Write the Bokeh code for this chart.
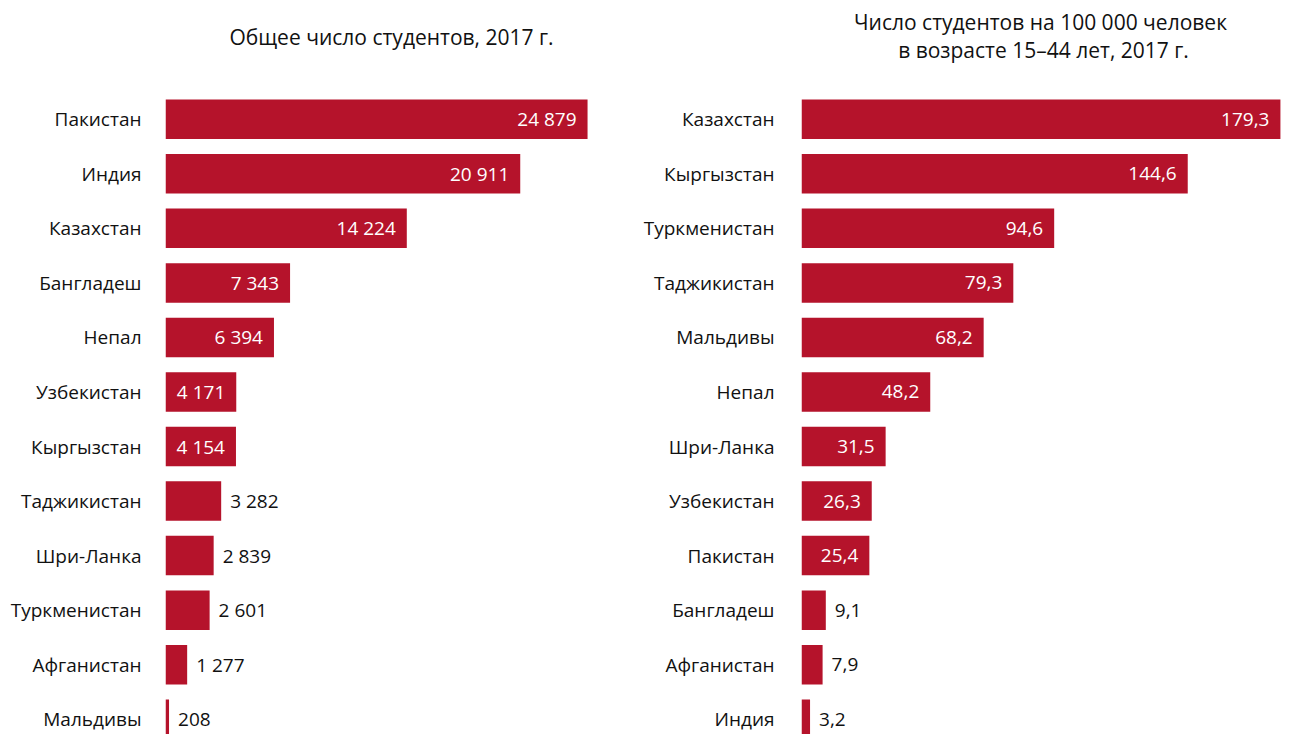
from bokeh.plotting import figure
from bokeh.layouts import row
from bokeh.models import Range1d, FixedTicker, Label, ColumnDataSource
from bokeh.embed import file_html
from bokeh.resources import INLINE
from bokeh.core.properties import value

# ---- data ----
left_title = "Общее число студентов, 2017 г."
left_countries = ["Пакистан", "Индия", "Казахстан", "Бангладеш", "Непал", "Узбекистан",
                  "Кыргызстан", "Таджикистан", "Шри-Ланка", "Туркменистан", "Афганистан", "Мальдивы"]
left_values = [24879, 20911, 14224, 7343, 6394, 4171, 4154, 3282, 2839, 2601, 1277, 208]

right_title_1 = "Число студентов на 100 000 человек"
right_title_2 = "в возрасте 15–44 лет, 2017 г."
right_countries = ["Казахстан", "Кыргызстан", "Туркменистан", "Таджикистан", "Мальдивы", "Непал",
                   "Шри-Ланка", "Узбекистан", "Пакистан", "Бангладеш", "Афганистан", "Индия"]
right_values = [179.3, 144.6, 94.6, 79.3, 68.2, 48.2, 31.5, 26.3, 25.4, 9.1, 7.9, 3.2]

BAR = "#B5132B"
TXT = "#111111"
FONT = "Open Sans"
H = 734
LBL = "19px"
TTL = "21px"


def fmt_int(v):
    return f"{v:,}".replace(",", "\u00a0")


def fmt_dec(v):
    return f"{v:.1f}".replace(".", ",")


def make(countries, values, fmt, xmax, width, border_left, border_right, standoff):
    n = len(countries)
    idx = list(range(n))
    p = figure(width=width, height=H, output_backend="svg", toolbar_location=None,
               x_range=Range1d(0, xmax), y_range=Range1d(11.28, -2.178),
               min_border_left=border_left, min_border_right=border_right,
               min_border_top=0, min_border_bottom=0)
    p.outline_line_color = None
    p.grid.visible = False
    p.xaxis.visible = False
    p.background_fill_color = None
    p.border_fill_color = None

    src = ColumnDataSource(dict(y=idx, v=values))
    p.hbar(y="y", left=0, right="v", height=0.724, source=src, fill_color=BAR, line_color=None)

    vmax = max(values)
    inside = [v / vmax > 0.14 for v in values]
    ins = ColumnDataSource(dict(x=[v for v, i in zip(values, inside) if i],
                                y=[y for y, i in zip(idx, inside) if i],
                                t=[fmt(v) for v, i in zip(values, inside) if i]))
    out = ColumnDataSource(dict(x=[v for v, i in zip(values, inside) if not i],
                                y=[y for y, i in zip(idx, inside) if not i],
                                t=[fmt(v) for v, i in zip(values, inside) if not i]))
    p.text(x="x", y="y", text="t", source=ins, x_offset=-11, text_align="right",
           text_baseline="middle", text_color="white", text_font=value(FONT), text_font_size=LBL)
    p.text(x="x", y="y", text="t", source=out, x_offset=9, text_align="left",
           text_baseline="middle", text_color=TXT, text_font=value(FONT), text_font_size=LBL)

    ax = p.yaxis[0]
    ax.ticker = FixedTicker(ticks=idx)
    ax.major_label_overrides = {i: c for i, c in enumerate(countries)}
    ax.axis_line_color = None
    ax.major_tick_line_color = None
    ax.minor_tick_line_color = None
    ax.major_tick_out = 0
    ax.major_tick_in = 0
    ax.major_label_standoff = standoff
    ax.major_label_text_font = FONT
    ax.major_label_text_font_size = LBL
    ax.major_label_text_color = TXT
    return p


p1 = make(left_countries, left_values, fmt_int, 28000, 640, 165, 0, 24)
p1.add_layout(Label(x=226, y=698, x_units="screen", y_units="screen", text=left_title,
                    text_align="center", text_baseline="middle", text_font=FONT,
                    text_font_size=TTL, text_color=TXT))

p2 = make(right_countries, right_values, fmt_dec, 181.2, 650, 160, 5, 27)
p2.add_layout(Label(x=239, y=713, x_units="screen", y_units="screen", text=right_title_1,
                    text_align="center", text_baseline="middle", text_font=FONT,
                    text_font_size=TTL, text_color=TXT))
p2.add_layout(Label(x=242, y=685, x_units="screen", y_units="screen", text=right_title_2,
                    text_align="center", text_baseline="middle", text_font=FONT,
                    text_font_size=TTL, text_color=TXT))

layout = row(p1, p2, spacing=0)
open("out.html", "w").write(file_html(layout, INLINE))
